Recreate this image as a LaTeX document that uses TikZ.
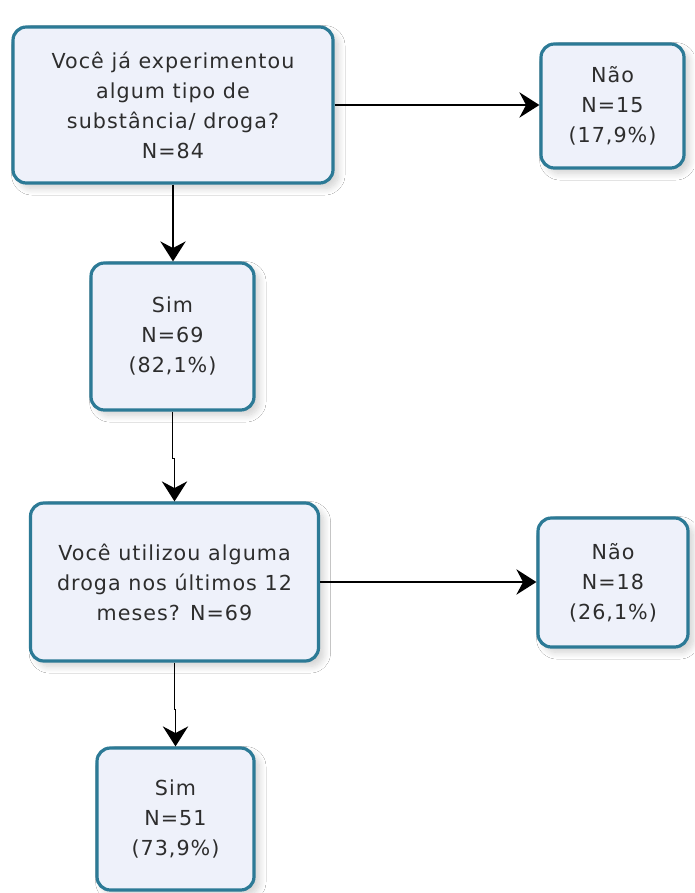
\documentclass[tikz,border=0pt]{standalone}
\usepackage{fontspec}
\setmainfont{DejaVu Sans}
\newfontfamily\boxfont[LetterSpace=5]{DejaVu Sans}
\usetikzlibrary{arrows.meta,shadows.blur}
\definecolor{boxborder}{RGB}{44,122,150}
\definecolor{boxfill}{RGB}{238,241,250}
\definecolor{boxtext}{RGB}{45,45,45}
\tikzset{
  flowbox/.style={draw=boxborder, line width=2.4pt, fill=boxfill, rounded corners=10pt,
    align=center, inner sep=0pt, text=boxtext,
    font=\boxfont\fontsize{15.5}{22.5}\selectfont,
    blur shadow={shadow xshift=4pt, shadow yshift=-4pt, shadow blur steps=8, shadow blur radius=5pt, shadow opacity=18}},
  flowarrow/.style={draw=black, line width=1.3pt, -{Stealth[length=15pt,width=19pt,inset=5pt]}}
}
\begin{document}
\begin{tikzpicture}[x=0.75pt,y=-0.75pt]
\fill[white] (0,0) rectangle (694,893);
\useasboundingbox (0,0) rectangle (694,893);

\node[flowbox, minimum width=240pt, minimum height=117pt] (q1) at (173,105)
  {Você já experimentou\\algum tipo de\\substância/ droga?\\N=84};
\node[flowbox, minimum width=107.25pt, minimum height=93pt] (n1) at (612.5,106)
  {Não\\N=15\\(17,9\%)};
\node[flowbox, minimum width=122.25pt, minimum height=110.25pt] (s1) at (172.5,336.5)
  {Sim\\N=69\\(82,1\%)};
\node[flowbox, minimum width=216pt, minimum height=118.5pt] (q2) at (174.5,582)
  {Você utilizou alguma\\droga nos últimos 12\\meses? N=69};
\node[flowbox, minimum width=112.5pt, minimum height=96.75pt] (n2) at (613,582.5)
  {Não\\N=18\\(26,1\%)};
\node[flowbox, minimum width=117.75pt, minimum height=106.5pt] (s2) at (175.5,819)
  {Sim\\N=51\\(73,9\%)};

\draw[flowarrow] (q1.east) -- (q1.east -| n1.west);
\draw[flowarrow] (q1.south) -- (q1.south |- s1.north);
\draw[flowarrow] (s1.south) -- ++(0,47) -| (q2.north);
\draw[flowarrow] (q2.east) -- (q2.east -| n2.west);
\draw[flowarrow] (q2.south) -- ++(0,47) -| (s2.north);
\end{tikzpicture}
\end{document}
